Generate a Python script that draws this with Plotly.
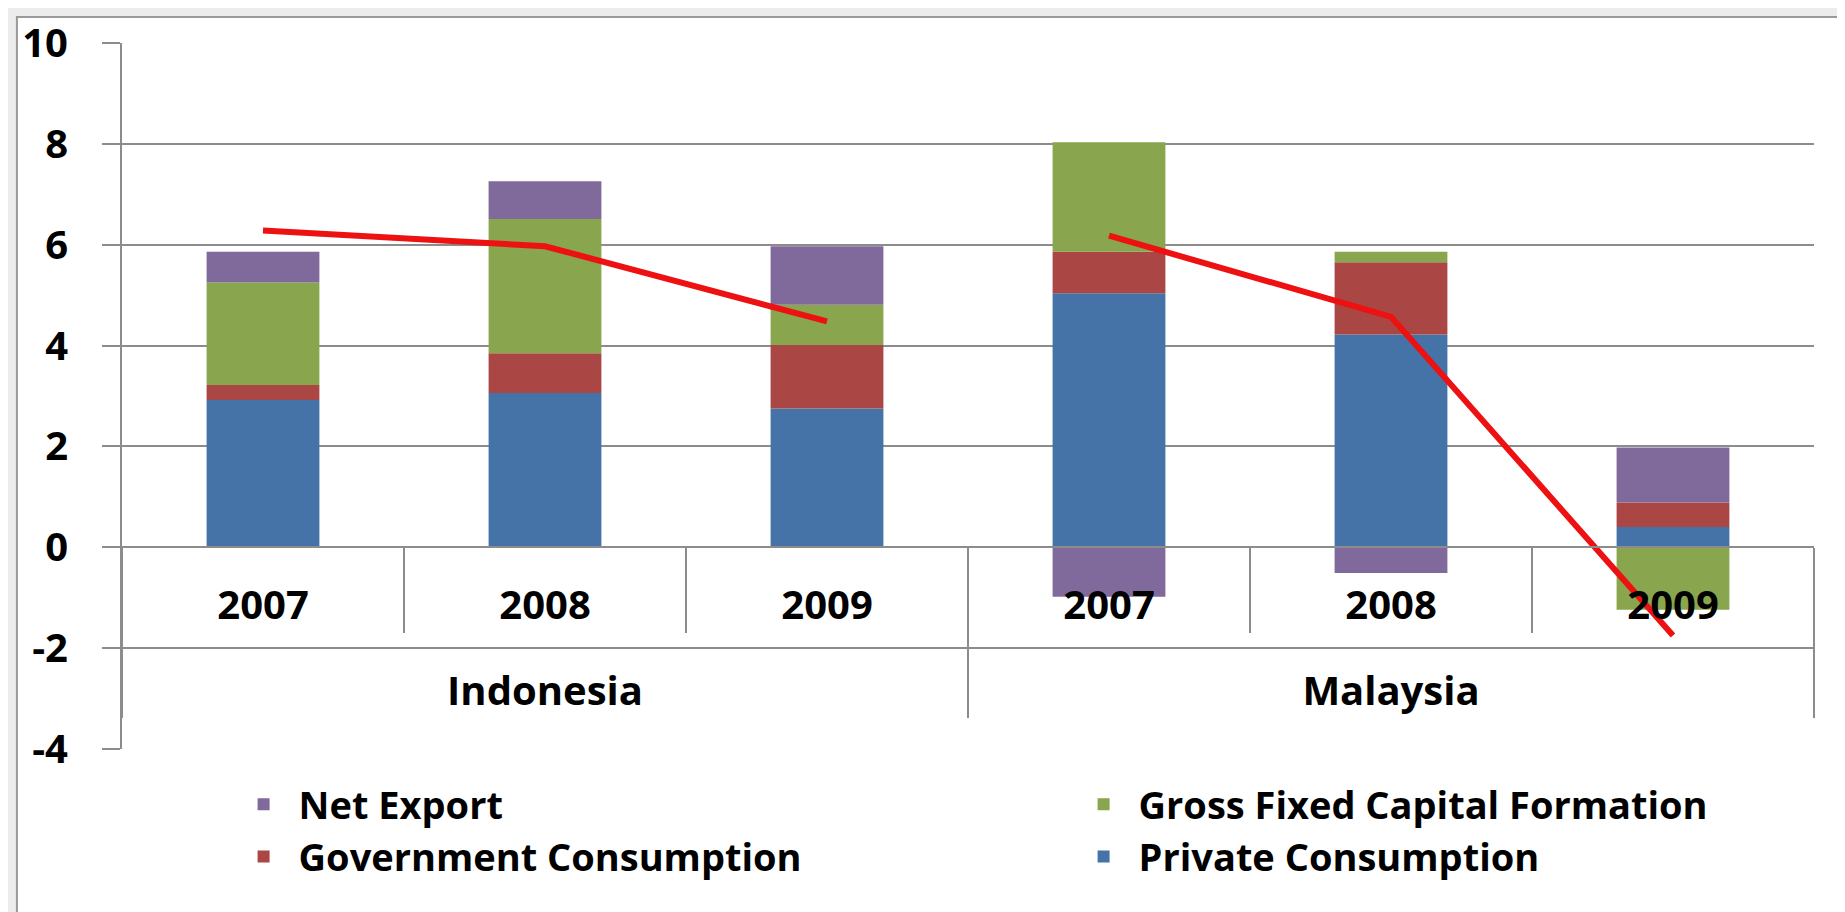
import plotly.graph_objects as go

# ---- data ----
countries = ["Indonesia", "Indonesia", "Indonesia", "Malaysia", "Malaysia", "Malaysia"]
years = ["2007", "2008", "2009", "2007", "2008", "2009"]
private_consumption = [2.92, 3.06, 2.75, 5.04, 4.22, 0.40]
government_consumption = [0.30, 0.79, 1.26, 0.82, 1.43, 0.49]
gross_fixed_capital = [2.03, 2.66, 0.80, 2.17, 0.21, -1.24]
net_export = [0.61, 0.75, 1.16, -0.98, -0.51, 1.09]
gdp_growth = [6.28, 5.97, 4.48, 6.18, 4.57, -1.75]
y_ticks = [-4, -2, 0, 2, 4, 6, 8, 10]

FONT = "Open Sans"
GRID = "#8c8c8c"

# outer-level labels sit one line lower, as in the original chart
group_labels = ["<br>" + c for c in countries]

fig = go.Figure()

series = [
    ("Private Consumption", private_consumption, "#4572A7", 4),
    ("Government Consumption", government_consumption, "#AA4643", 3),
    ("Gross Fixed Capital Formation", gross_fixed_capital, "#89A54E", 2),
    ("Net Export", net_export, "#80699B", 1),
]
for name, vals, color, rank in series:
    fig.add_trace(go.Bar(
        x=[group_labels, years], y=vals, name=name,
        marker=dict(color=color, line=dict(width=0)),
        legendrank=rank,
    ))

# GDP growth line, one segment per country
for c in ["Indonesia", "Malaysia"]:
    idx = [i for i, cc in enumerate(countries) if cc == c]
    fig.add_trace(go.Scatter(
        x=[[group_labels[i] for i in idx], [years[i] for i in idx]],
        y=[gdp_growth[i] for i in idx],
        mode="lines", line=dict(color="#EE1111", width=6),
        showlegend=False, hoverinfo="skip",
    ))

ymin, ymax = y_ticks[0], y_ticks[-1]

shapes = []
# outer frame
shapes.append(dict(type="rect", xref="paper", yref="paper",
                   x0=-0.0621, x1=1.2, y0=-0.2323, y1=1.0368,
                   fillcolor="white", line=dict(color="#9a9a9a", width=2),
                   layer="below"))
# inner dividers between years
for k in [1, 2, 4, 5]:
    shapes.append(dict(type="line", xref="x domain", yref="y",
                       x0=k / 6, x1=k / 6, y0=0, y1=-1.7,
                       line=dict(color=GRID, width=2), layer="above"))

fig.update_layout(
    width=1845, height=912,
    margin=dict(l=114, r=39, t=35, b=171, autoexpand=False),
    paper_bgcolor="#ececec",
    plot_bgcolor="rgba(0,0,0,0)",
    barmode="relative",
    bargap=0.6,
    font=dict(family=FONT, color="black"),
    shapes=shapes,
    showlegend=True,
    legend=dict(
        orientation="h", x=0.063, xanchor="left", y=-0.034, yanchor="top",
        traceorder="normal", entrywidth=765, entrywidthmode="pixels",
        itemwidth=60,
        font=dict(family=FONT, size=38, weight="bold", color="black"),
        bgcolor="rgba(0,0,0,0)",
    ),
    xaxis=dict(
        type="multicategory",
        anchor="free", position=(0 - ymin) / (ymax - ymin),
        showline=True, linecolor=GRID, linewidth=2,
        showgrid=False, zeroline=False,
        ticks="", ticklabelstandoff=23,
        showdividers=True, dividercolor=GRID, dividerwidth=2,
        tickfont=dict(family=FONT, size=40, weight="bold", color="black"),
    ),
    yaxis=dict(
        range=[ymin, ymax], tickvals=y_ticks, ticktext=[str(v) for v in y_ticks],
        showline=True, linecolor=GRID, linewidth=2,
        showgrid=True, gridcolor=GRID, gridwidth=2,
        zeroline=False,
        ticks="outside", ticklen=18, tickcolor=GRID, tickwidth=2,
        ticklabelstandoff=26,
        tickfont=dict(family=FONT, size=40, weight="bold", color="black"),
    ),
)

fig.write_html("out.html")
